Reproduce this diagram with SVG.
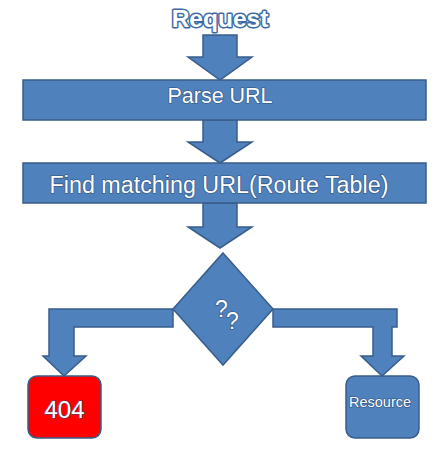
<svg xmlns="http://www.w3.org/2000/svg" width="448" height="460" viewBox="0 0 448 460">
<style>
.shape{fill:#4F81BD;stroke:#385D8A;stroke-width:1.5;stroke-linejoin:miter}
.lbl{font-family:"Liberation Sans",Arial,sans-serif;fill:#ffffff;stroke:#2d4f7a;stroke-width:1.2;paint-order:stroke;text-anchor:middle}
.title{font-family:"Liberation Sans",Arial,sans-serif;font-weight:bold;fill:#ffffff;stroke:#3a69a3;stroke-width:3;paint-order:stroke;stroke-linejoin:round;text-anchor:middle}
</style>
<rect width="448" height="460" fill="#ffffff"/>
<g id="connectors">
<polygon class="shape" points="203,35 237,35 237,57 252,57 220,80 188,57 203,57"/>
<polygon class="shape" points="203,120 237,120 237,142 252,142 220,163 188,142 203,142"/>
<polygon class="shape" points="203,203 237,203 237,227 252,227 220,248 188,227 203,227"/>
<polygon class="shape" points="173,309 49,309 49,356 43,356 64,376 86,356 74,356 74,327 173,327"/>
<polygon class="shape" points="273,309 397,309 397,327 392,327 392,356 404,356 382,376 361,356 373,356 373,327 273,327"/>
</g>
<g id="request">
<text class="title" x="220" y="27" font-size="24.5">Request</text>
</g>
<g id="parse-url">
<rect class="shape" x="23" y="80" width="403" height="40"/>
<text class="lbl" x="220" y="103" font-size="21.5">Parse URL</text>
</g>
<g id="find-route">
<rect class="shape" x="23" y="163" width="403" height="40"/>
<text class="lbl" x="219" y="193" font-size="23.3">Find matching URL(Route Table)</text>
</g>
<g id="decision">
<polygon class="shape" points="223,253 273,309 223,365 173,309"/>
<text class="lbl" x="221.5" y="317" font-size="23">?</text>
<text class="lbl" x="232.5" y="329" font-size="23">?</text>
</g>
<g id="not-found">
<rect x="28" y="376" width="73" height="62" rx="9" fill="#FF0000" stroke="#385D8A" stroke-width="1.5"/>
<text class="lbl" x="64.5" y="418" font-size="24">404</text>
</g>
<g id="resource">
<rect class="shape" x="346" y="376" width="73" height="62" rx="9"/>
<text class="lbl" x="380" y="407" font-size="14.5">Resource</text>
</g>
</svg>
